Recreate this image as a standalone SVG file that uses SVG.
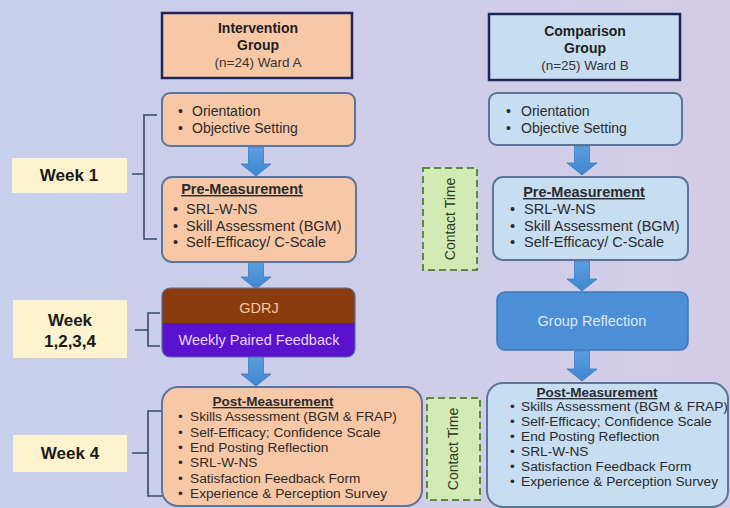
<svg xmlns="http://www.w3.org/2000/svg" width="730" height="508" viewBox="0 0 730 508">
<defs>
<linearGradient id="bg" x1="0" y1="0" x2="1" y2="0">
<stop offset="0" stop-color="#c8cfec"/>
<stop offset="1" stop-color="#d4cce6"/>
</linearGradient>
<linearGradient id="arr" x1="0" y1="0" x2="0" y2="1">
<stop offset="0" stop-color="#5a9ede"/>
<stop offset="1" stop-color="#3f86d0"/>
</linearGradient>
<style>
text{font-family:"Liberation Sans",Arial,sans-serif;fill:#2b2b2b}
.hdr{stroke:#1d2656;stroke-width:2.5}
.peach{fill:#f8c8a6}
.lblue{fill:#c7ddf2}
.rb{stroke:#5d7598;stroke-width:2}
.wk{fill:#fdf3cf}
.wt{font-size:17px;font-weight:bold;text-anchor:middle;fill:#1a1a1a}
.ht{font-size:14px;font-weight:bold;text-anchor:middle;fill:#1f1f1f}
.hs{font-size:13.5px;text-anchor:middle;fill:#333}
.it{font-size:14px}
.pt{font-size:14.5px;font-weight:bold;text-decoration:underline;text-anchor:middle}
.pi{font-size:14.5px}
.mt{font-size:13.5px;font-weight:bold;text-decoration:underline;text-anchor:middle}
.mi{font-size:13.7px}
.br{fill:none;stroke:#3a4868;stroke-width:1.6}
.ar{fill:url(#arr);stroke:#3b7cc2;stroke-width:0.8}
.ct{fill:#d2eab4;stroke:#5c8a3e;stroke-width:2;stroke-dasharray:7 4}
.ctt{font-size:14px;text-anchor:middle;fill:#2d3a22}
</style>
</defs>
<rect x="0" y="0" width="730" height="508" fill="url(#bg)"/>

<g id="connectors">
<path class="br" d="M157 115 H144 V239 H157 M132 174 H144"/>
<path class="br" d="M160 313 H148 V346 H160 M135 330 H148"/>
<path class="br" d="M162 411 H148 V496 H162 M132 453 H148"/>
<path class="ar" d="M248.5 147 H263.5 V164 H271 L256 176 L241 164 H248.5 Z"/>
<path class="ar" d="M248.5 262 H263.5 V277 H271 L256 289 L241 277 H248.5 Z"/>
<path class="ar" d="M248.5 357 H263.5 V374 H271 L256 386 L241 374 H248.5 Z"/>
<path class="ar" d="M574.5 146 H589.5 V163 H597 L582 175 L567 163 H574.5 Z"/>
<path class="ar" d="M574.5 261 H589.5 V279 H597 L582 291 L567 279 H574.5 Z"/>
<path class="ar" d="M574.5 351 H589.5 V369 H597 L582 381 L567 369 H574.5 Z"/>
</g>

<g id="week1">
<rect class="wk" x="12" y="158" width="115" height="35"/>
<text class="wt" x="69" y="181">Week 1</text>
</g>
<g id="week1234">
<rect class="wk" x="13" y="300" width="114" height="58"/>
<text class="wt" x="70" y="326">Week</text>
<text class="wt" x="70" y="347">1,2,3,4</text>
</g>
<g id="week4">
<rect class="wk" x="13" y="435" width="114" height="37"/>
<text class="wt" x="70" y="459">Week 4</text>
</g>

<g id="intervention">
<rect class="peach hdr" x="162" y="13" width="190" height="65"/>
<text class="ht" x="258" y="33">Intervention</text>
<text class="ht" x="258" y="50">Group</text>
<text class="hs" x="258" y="67">(n=24) Ward A</text>
</g>
<g id="comparison">
<rect class="lblue hdr" x="489" y="14" width="191" height="66"/>
<text class="ht" x="585" y="36">Comparison</text>
<text class="ht" x="585" y="53">Group</text>
<text class="hs" x="585" y="70">(n=25) Ward B</text>
</g>

<g id="orient-left">
<rect class="peach rb" x="162" y="93" width="193" height="53" rx="8"/>
<text class="it" x="178" y="116">•</text><text class="it" x="192" y="116">Orientation</text>
<text class="it" x="178" y="133">•</text><text class="it" x="192" y="133">Objective Setting</text>
</g>
<g id="orient-right">
<rect class="lblue rb" x="489" y="93" width="193" height="52" rx="8"/>
<text class="it" x="506" y="116">•</text><text class="it" x="521" y="116">Orientation</text>
<text class="it" x="506" y="133">•</text><text class="it" x="521" y="133">Objective Setting</text>
</g>

<g id="pre-left">
<rect class="peach rb" x="162" y="177" width="194" height="85" rx="10"/>
<text class="pt" x="242" y="194">Pre-Measurement</text>
<text class="pi" x="173" y="214">•</text><text class="pi" x="186" y="214">SRL-W-NS</text>
<text class="pi" x="173" y="231">•</text><text class="pi" x="186" y="231">Skill Assessment (BGM)</text>
<text class="pi" x="173" y="247">•</text><text class="pi" x="186" y="247">Self-Efficacy/ C-Scale</text>
</g>
<g id="pre-right">
<rect class="lblue rb" x="493" y="177" width="195" height="83" rx="10"/>
<text class="pt" x="584" y="197">Pre-Measurement</text>
<text class="pi" x="510" y="214">•</text><text class="pi" x="524" y="214">SRL-W-NS</text>
<text class="pi" x="510" y="231">•</text><text class="pi" x="524" y="231">Skill Assessment (BGM)</text>
<text class="pi" x="510" y="247">•</text><text class="pi" x="524" y="247">Self-Efficacy/ C-Scale</text>
</g>

<g id="gdrj">
<rect x="162" y="288" width="193" height="69" rx="8" fill="#8a3c0e"/>
<path d="M162 323 H355 V349 A8 8 0 0 1 347 357 H170 A8 8 0 0 1 162 349 Z" fill="#5a12cf"/>
<rect x="162" y="288" width="193" height="69" rx="8" fill="none" stroke="#5d6fa0" stroke-width="1.2"/>
<text x="259" y="313" font-size="14.5" text-anchor="middle" style="fill:#f3c8a2">GDRJ</text>
<text x="259" y="345" font-size="14.5" text-anchor="middle" style="fill:#e6d9ff">Weekly Paired Feedback</text>
</g>

<g id="group-reflection">
<rect x="497" y="292" width="191" height="58" rx="8" fill="#4c8fd6" stroke="#3c77ba" stroke-width="1.5"/>
<text x="592" y="326" font-size="14.5" text-anchor="middle" style="fill:#dce9f8">Group Reflection</text>
</g>

<g id="post-left">
<rect class="peach rb" x="162" y="387" width="260" height="119" rx="16"/>
<text class="mt" x="273" y="406">Post-Measurement</text>
<text class="mi" x="178" y="421">•</text><text class="mi" x="190" y="421">Skills Assessment (BGM &amp; FRAP)</text>
<text class="mi" x="178" y="437">•</text><text class="mi" x="190" y="437">Self-Efficacy; Confidence Scale</text>
<text class="mi" x="178" y="452">•</text><text class="mi" x="190" y="452">End Posting Reflection</text>
<text class="mi" x="178" y="467">•</text><text class="mi" x="190" y="467">SRL-W-NS</text>
<text class="mi" x="178" y="483">•</text><text class="mi" x="190" y="483">Satisfaction Feedback Form</text>
<text class="mi" x="178" y="498">•</text><text class="mi" x="190" y="498">Experience &amp; Perception Survey</text>
</g>
<g id="post-right">
<rect class="lblue rb" x="487" y="383" width="241" height="124" rx="16"/>
<text class="mt" x="597" y="397">Post-Measurement</text>
<text class="mi" x="510" y="411">•</text><text class="mi" x="521" y="411">Skills Assessment (BGM &amp; FRAP)</text>
<text class="mi" x="510" y="426">•</text><text class="mi" x="521" y="426">Self-Efficacy; Confidence Scale</text>
<text class="mi" x="510" y="441">•</text><text class="mi" x="521" y="441">End Posting Reflection</text>
<text class="mi" x="510" y="456">•</text><text class="mi" x="521" y="456">SRL-W-NS</text>
<text class="mi" x="510" y="471">•</text><text class="mi" x="521" y="471">Satisfaction Feedback Form</text>
<text class="mi" x="510" y="486">•</text><text class="mi" x="521" y="486">Experience &amp; Perception Survey</text>
</g>

<g id="contact-upper">
<rect class="ct" x="423" y="168" width="54" height="102"/>
<text class="ctt" transform="translate(455 219) rotate(-90)">Contact Time</text>
</g>
<g id="contact-lower">
<rect class="ct" x="427" y="398" width="53" height="102"/>
<text class="ctt" transform="translate(458 449) rotate(-90)">Contact Time</text>
</g>
</svg>
